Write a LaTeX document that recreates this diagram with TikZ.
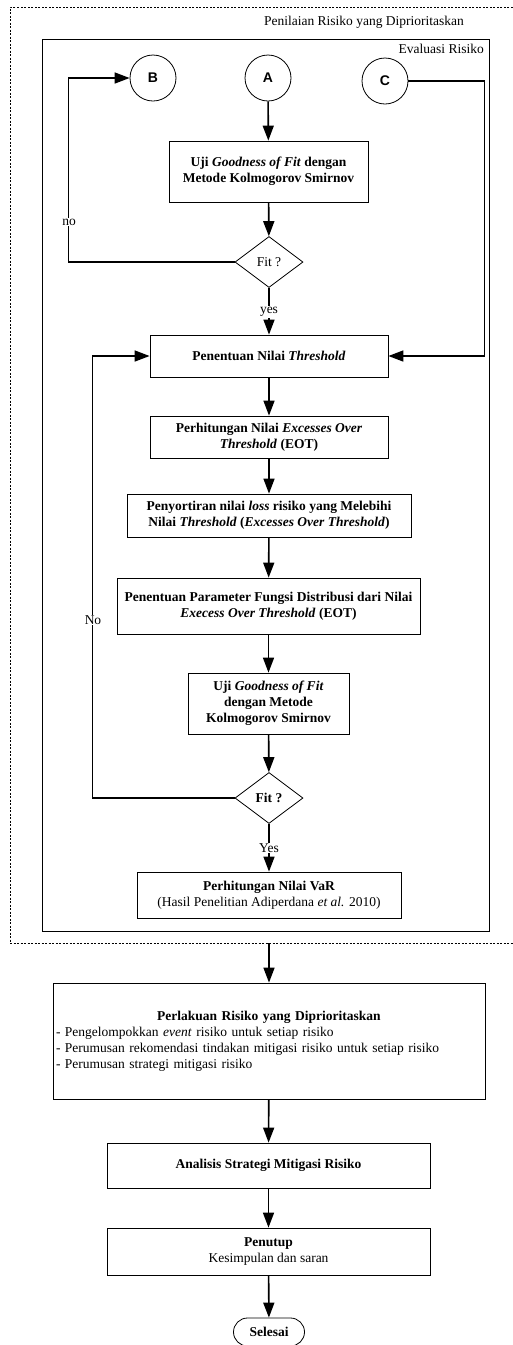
\documentclass[tikz,border=0pt]{standalone}
\usepackage{fontspec}
\setmainfont{Liberation Serif}
\newfontfamily\letterfont{Liberation Sans}
\usetikzlibrary{arrows.meta,shapes.geometric,shapes.misc,calc}
\newcommand{\myfs}{\fontsize{13.5}{16}\selectfont}
\tikzset{
  box/.style={draw, line width=0.8pt, align=center, inner sep=2pt, font=\myfs\bfseries},
  conn/.style={line width=1.6pt, -{Triangle[length=15pt,width=11pt]}},
  circ/.style={draw, circle, line width=0.8pt, minimum size=46pt, inner sep=0pt, font=\letterfont\fontsize{14}{16}\selectfont\bfseries},
  dia/.style={draw, diamond, aspect=1.33, line width=0.8pt, inner sep=0pt, minimum width=68pt, minimum height=51pt, font=\myfs},
  lbl/.style={fill=white, inner sep=1pt, font=\myfs},
  plain/.style={inner sep=0pt, font=\myfs},
}
\begin{document}
\begin{tikzpicture}[x=1pt,y=-1pt]
\useasboundingbox (0,0) rectangle (513,1345);
% containers
\draw[line width=0.6pt, dash pattern=on 2pt off 1.5pt] (530,7) -- (10,7) -- (10,943) -- (530,943);
\node[plain] (title1) at (364,22) {Penilaian Risiko yang Diprioritaskan};
\draw[line width=0.8pt] (42,39) rectangle (489,931);
\node[plain, anchor=east] (title2) at (484,49) {Evaluasi Risiko};
\coordinate (outb) at (269,943);

% nodes
\node[circ] (B) at (153,78) {B};
\node[circ] (A) at (268,78) {A};
\node[circ] (C) at (385,81) {C};
\node[box, minimum width=199pt, minimum height=61pt] (u1) at (268.5,171.5) {Uji \textit{Goodness of Fit} dengan\\Metode Kolmogorov Smirnov};
\node[dia] (d1) at (269,262) {Fit ?};
\node[box, minimum width=238pt, minimum height=42pt] (thr) at (269,356) {Penentuan Nilai \textit{Threshold}};
\node[box, minimum width=238pt, minimum height=42pt] (eot) at (269,437) {Perhitungan Nilai \textit{Excesses Over}\\\textit{Threshold} (EOT)};
\node[box, minimum width=284pt, minimum height=43pt] (sort) at (269,515.5) {Penyortiran nilai \textit{loss} risiko yang Melebihi\\Nilai \textit{Threshold} (\textit{Excesses Over Threshold})};
\node[box, minimum width=303pt, minimum height=56pt] (par) at (268.5,606) {Penentuan Parameter Fungsi Distribusi dari Nilai\\\textit{Execess Over Threshold} (EOT)};
\node[box, minimum width=161pt, minimum height=61pt] (u2) at (268.5,703.5) {Uji \textit{Goodness of Fit}\\dengan Metode\\Kolmogorov Smirnov};
\node[dia, font=\myfs\bfseries] (d2) at (269,798) {Fit ?};
\node[box, minimum width=264pt, minimum height=46pt] (var) at (269,895) {Perhitungan Nilai VaR\\{\mdseries (Hasil Penelitian Adiperdana \textit{et al.} 2010)}};
\node[draw, line width=0.8pt, minimum width=432pt, minimum height=116pt, inner sep=3pt, text width=426pt, align=left, font=\myfs] (per) at (269,1041)
  {\makebox[426pt][c]{\textbf{Perlakuan Risiko yang Diprioritaskan}}\\- Pengelompokkan \textit{event} risiko untuk setiap risiko\\- Perumusan rekomendasi tindakan mitigasi risiko untuk setiap risiko\\- Perumusan strategi mitigasi risiko};
\node[box, minimum width=323pt, minimum height=45pt] (ana) at (268.5,1165.5) {Analisis Strategi Mitigasi Risiko};
\node[box, minimum width=323pt, minimum height=47pt] (pen) at (268.5,1251.5) {Penutup\\{\mdseries Kesimpulan dan saran}};
\node[draw, rounded rectangle, line width=0.8pt, minimum width=75pt, minimum height=28pt, inner sep=2pt, font=\myfs\bfseries] (sel) at (269,1332) {Selesai};

% connectors
\draw[conn] (A) -- (u1);
\draw[conn] (u1) -- (d1);
\draw[conn] (d1.west) -- ++(-166,0) |- (B.west);
\node[lbl] (nolbl) at (69,222) {no};
\draw[conn] (d1.south) -- (thr.north);
\node[lbl] (yeslbl) at (269,312) {yes};
\draw[conn] (C.east) -- ++(76,0) |- (thr.east);
\draw[conn] (thr) -- (eot);
\draw[conn] (eot) -- (sort);
\draw[conn] (sort) -- (par);
\draw[conn] (par) -- (u2);
\draw[conn] (u2) -- (d2);
\draw[conn] (d2.west) -- ++(-142,0) |- (thr.west);
\node[lbl] (Nolbl) at (93,620) {No};
\draw[conn] (d2.south) -- (var.north);
\node[lbl] (Yeslbl) at (269,848) {Yes};
\draw[conn] (outb) -- (per);
\draw[conn] (per) -- (ana);
\draw[conn] (ana) -- (pen);
\draw[conn] (pen) -- (sel);
\end{tikzpicture}
\end{document}
